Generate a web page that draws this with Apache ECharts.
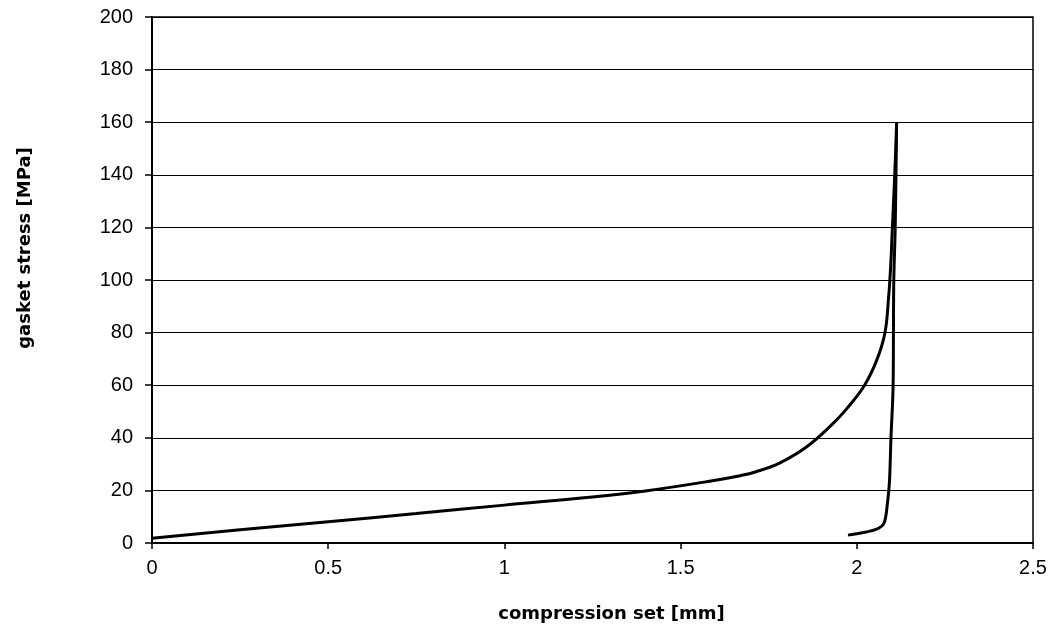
<!DOCTYPE html>
<html>
<head>
<meta charset="utf-8">
<script src="https://cdn.jsdelivr.net/npm/echarts@6/dist/echarts.min.js"></script>
<style>
html,body{margin:0;padding:0;background:#fff;}
#chart{width:1053px;height:626px;}
</style>
</head>
<body>
<div id="chart"></div>
<script>
const loadX = [0, 0.25, 0.5, 0.75, 1.0, 1.25, 1.4, 1.574, 1.669, 1.712, 1.782, 1.858, 1.933, 1.971, 2.022, 2.058, 2.080, 2.090, 2.096, 2.101, 2.106, 2.110, 2.113];
const loadY = [1.8, 5.0, 8.1, 11.2, 14.4, 17.5, 19.8, 23.3, 25.6, 27.0, 30.5, 36.6, 45.5, 51.0, 60, 70, 80, 93, 105, 120, 135, 148, 160];
const unloadX = [2.113, 2.109, 2.105, 2.104, 2.103, 2.097, 2.093, 2.090, 2.086, 2.082, 2.076, 2.062, 2.040, 2.012, 1.975];
const unloadY = [160, 120, 100, 80, 60, 40, 24, 19, 14, 10, 7.2, 5.6, 4.6, 3.8, 3.0];
const xTicks = [0, 0.5, 1, 1.5, 2, 2.5];
const yTicks = [0, 20, 40, 60, 80, 100, 120, 140, 160, 180, 200];

const font = 'Liberation Sans, Arial, sans-serif';
const titleFont = 'DejaVu Sans, sans-serif';
const chart = echarts.init(document.getElementById('chart'));
chart.setOption({
  animation: false,
  backgroundColor: '#fff',
  grid: {left: 152, right: 20, top: 17, bottom: 83, outerBoundsMode: 'none', containLabel: false, show: true, borderColor: '#000', borderWidth: 1.5, backgroundColor: 'transparent'},
  xAxis: {
    type: 'value', min: xTicks[0], max: xTicks[xTicks.length-1], interval: 0.5,
    name: 'compression set [mm]', nameLocation: 'middle', nameGap: 62,
    nameTextStyle: {fontFamily: titleFont, fontSize: 18, fontWeight: 'bold', color: '#000', padding: [0, 0, 0, 38]},
    axisLine: {lineStyle: {color: '#000', width: 2}},
    axisTick: {show: true, length: 6, lineStyle: {color: '#000', width: 1.5}},
    axisLabel: {fontFamily: font, fontSize: 20, color: '#000', margin: 15},
    splitLine: {show: false}
  },
  yAxis: {
    type: 'value', min: yTicks[0], max: yTicks[yTicks.length-1], interval: 20,
    name: 'gasket stress [MPa]', nameLocation: 'middle', nameGap: 118,
    nameTextStyle: {fontFamily: titleFont, fontSize: 18, fontWeight: 'bold', color: '#000', padding: [0, 0, 0, 64]},
    axisLine: {lineStyle: {color: '#000', width: 2}},
    axisTick: {show: true, length: 7, lineStyle: {color: '#000', width: 1.5}},
    axisLabel: {fontFamily: font, fontSize: 20, color: '#000', margin: 19},
    splitLine: {show: true, lineStyle: {color: '#000', width: 1.2}}
  },
  series: [
    {type: 'line', data: loadX.map((x, i) => [x, loadY[i]]), smooth: 0.4, symbol: 'none',
     lineStyle: {color: '#000', width: 3}},
    {type: 'line', data: unloadX.map((x, i) => [x, unloadY[i]]), smooth: 0.4, symbol: 'none',
     lineStyle: {color: '#000', width: 3}}
  ]
});
</script>
</body>
</html>
